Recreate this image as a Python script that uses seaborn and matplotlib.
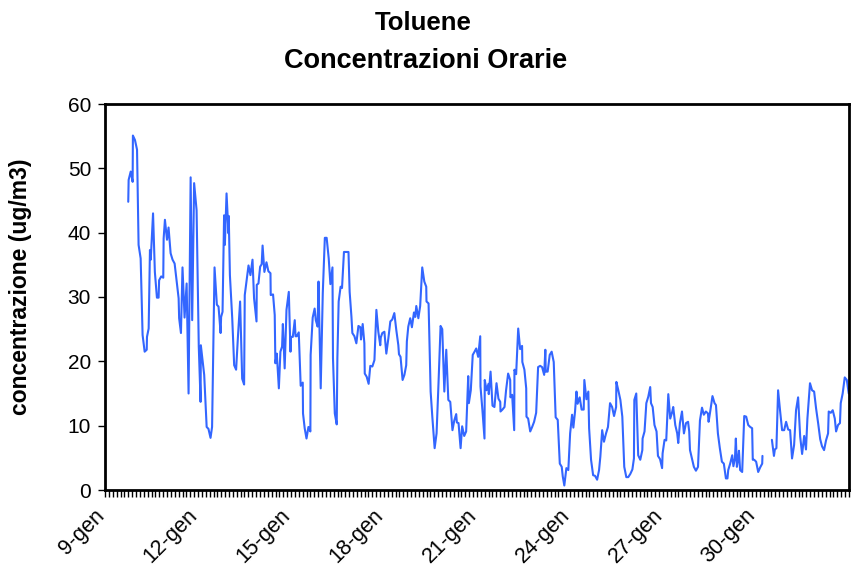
import numpy as np
import pandas as pd
import matplotlib
matplotlib.use("Agg")
import matplotlib.pyplot as plt
import matplotlib.transforms as mtransforms
import seaborn as sns
from matplotlib.ticker import MultipleLocator

# ---- data: hours since 9-gen 00:00 and hourly toluene concentration (ug/m3) ----
ore_1 = [18.0, 18.3, 19.9, 21.4, 21.6, 23.2, 24.8, 26.0, 27.6, 29.1, 30.7, 32.3, 32.5, 33.8,
         34.8, 35.4, 37.2, 38.6, 40.2, 41.5, 41.9, 43.5, 45.1, 45.4, 46.4, 48.0, 49.2, 50.8,
         52.3, 53.9, 57.0, 57.4, 58.8, 60.0, 61.6, 63.2, 64.7, 66.3, 67.5, 69.0, 70.9, 72.6,
         74.0, 74.2, 76.8, 78.7, 80.1, 81.7, 82.9, 84.8, 86.6, 87.9, 89.5, 89.9, 91.0, 92.2,
         92.8, 94.1, 95.6, 95.8,
         96.7, 98.5, 100.0, 101.5, 103.0, 104.6, 106.2, 107.7, 108.2, 109.8, 111.1, 112.6, 114.2,
         115.4, 117.3, 117.5, 118.8, 120.1, 121.3, 122.0, 123.4, 125.0, 126.5, 128.1, 128.3,
         130.1, 131.4, 131.9, 133.0, 134.6, 135.8, 137.1, 137.7, 139.1, 140.5, 142.3, 143.6,
         144.0, 145.4, 146.9, 147.5, 148.5, 150.0, 151.5, 153.1, 153.3, 154.6, 156.0, 157.5,
         159.0, 159.2, 160.8, 162.3, 163.2, 164.6, 165.3, 167.0, 168.6, 170.2, 171.6, 173.2,
         174.5, 176.1, 176.5, 177.9, 179.4, 179.9, 180.9, 182.4, 183.5, 185.0, 188.5, 189.4,
         190.8, 191.5, 193.1, 194.6, 196.2, 197.7, 198.2, 199.5, 200.8, 201.1, 202.6, 204.1,
         205.4, 207.0, 208.6, 210.1, 211.6, 213.1, 213.5, 214.7, 216.3, 217.8, 219.4, 220.9,
         222.4, 224.0, 225.5, 227.1, 227.6, 228.8, 230.4, 231.8, 233.2, 233.7, 234.8, 236.3,
         237.6, 239.2, 240.2, 241.0, 242.6, 244.0, 245.6, 247.2, 248.7, 248.9, 250.5, 252.1,
         253.4, 255.2, 256.7, 258.2, 259.8, 261.1, 262.7, 264.2, 265.8, 267.3, 269.0, 270.4,
         271.9, 272.4, 273.7, 275.3, 276.5, 278.1, 279.6, 281.2, 281.7, 283.2, 284.7,
         286.1, 287.4, 288.9, 290.5, 290.7, 292.2, 293.8, 294.0, 295.4, 296.9, 297.1, 298.5,
         300.0, 301.5, 303.1, 304.6, 306.0, 306.2, 307.7, 309.3, 310.5, 312.1, 313.7, 313.9,
         315.2, 316.8, 317.0, 318.3, 319.9, 321.4, 322.9, 323.1, 324.7, 326.1, 326.3, 327.6,
         329.2, 330.7, 332.2, 333.8, 335.3, 336.9, 338.4, 340.0, 340.9, 341.2, 342.7, 344.3,
         345.8, 347.4, 348.9, 350.5, 352.1, 353.6, 354.4, 355.6, 357.2, 358.7, 360.1, 361.6,
         362.6, 363.9, 365.0, 365.9, 367.5, 369.0, 370.6, 371.1, 372.7, 374.2, 374.8, 376.3,
         377.9, 379.4, 381.0, 382.5,
         383.5, 384.9, 386.3, 387.9, 389.4, 391.0, 392.6, 394.1, 395.7, 395.9, 397.4, 399.0,
         400.5, 402.0, 403.6, 405.1, 406.7, 408.3, 409.5, 409.8, 411.3, 412.8, 414.4, 416.0,
         416.2, 417.7, 419.1, 420.6, 422.1, 422.7, 424.0, 425.4, 427.0, 428.1, 429.7, 431.3,
         431.7, 433.2, 434.5, 436.1, 437.6, 439.2, 439.9, 441.5, 443.0, 443.8, 445.1, 446.7,
         448.2, 449.8, 451.4, 452.3, 452.9, 454.4, 455.9, 457.5, 459.1, 460.6, 462.2, 463.6,
         465.2, 466.8, 467.3, 468.7, 470.3, 471.9, 473.0, 474.5, 476.0, 477.6, 479.1, 480.7,
         481.9, 482.5, 484.0, 485.6, 486.5, 487.7, 488.4, 489.2, 490.2, 490.8, 491.7, 493.3,
         494.9, 496.4, 498.0, 499.5, 501.0, 501.5, 502.6, 504.1, 505.7, 507.2, 508.8, 509.0]
conc_1 = [44.8, 48.2, 49.5, 47.9, 55.1, 54.4, 52.9, 38.1, 36.0, 24.1, 21.5, 21.8, 23.8, 25.1,
          37.3, 35.8, 43.0, 33.9, 29.9, 29.9, 32.6, 33.2, 33.0, 39.1, 42.0, 38.9, 40.8, 36.8,
          35.8, 35.2, 29.8, 26.7, 24.4, 34.6, 26.8, 32.1, 15.0, 48.6, 26.4, 47.7, 43.5, 22.3,
          13.7, 22.5, 17.9, 9.8, 9.5, 8.1, 9.8, 34.6, 28.8, 28.5, 24.4, 26.9, 27.7, 42.7,
          38.1, 46.1, 39.9, 42.6,
          33.4, 26.7, 19.4, 18.7, 24.1, 29.3, 17.3, 16.4, 30.3, 32.9, 34.9, 33.4, 35.8,
          29.8, 26.2, 31.9, 32.1, 34.7, 35.1, 38.0, 33.9, 35.4, 34.0, 33.7, 30.3,
          30.4, 27.2, 19.7, 21.2, 15.8, 21.5, 22.3, 25.8, 18.9, 28.0, 30.8, 21.5,
          23.8, 23.8, 26.4, 23.9, 23.9, 24.5, 16.2, 16.7, 11.9, 9.6, 8.0, 9.8,
          9.1, 21.0, 26.8, 28.2, 26.4, 25.4, 32.4, 15.8, 30.6, 39.2, 39.2, 36.0,
          32.0, 34.6, 20.5, 11.9, 10.2, 20.5, 29.3, 31.6, 31.4, 37.0, 37.0, 30.8,
          26.9, 24.4, 23.9, 22.8, 25.5, 25.3, 23.4, 25.8, 22.8, 18.1, 17.6, 16.5,
          19.3, 19.2, 20.2, 28.0, 24.6, 22.5, 23.7, 24.4, 24.6, 21.2, 23.6, 26.2,
          26.5, 27.5, 24.9, 22.5, 21.1, 20.7, 17.1, 17.9, 19.4, 23.1, 25.4, 26.7,
          25.3, 27.6, 26.9, 28.6, 26.7, 28.6, 34.6, 32.4, 31.6, 29.3, 29.0, 15.3,
          11.4, 6.5, 8.8, 16.6, 25.5, 25.0, 15.3, 21.8, 14.0, 13.7, 9.3, 10.8,
          11.8, 10.5, 10.4, 6.5, 9.9, 8.4, 9.1, 17.7, 13.5, 15.5, 21.0,
          21.5, 22.0, 20.7, 23.9, 16.1, 12.4, 8.0, 17.1, 15.5, 16.5, 14.9, 18.4,
          13.1, 12.9, 16.6, 14.2, 13.7, 12.2, 12.5, 12.9, 15.5, 18.1, 17.1, 14.4,
          14.8, 9.3, 18.7, 18.0, 25.1, 21.9, 22.4, 19.9, 18.7, 15.8, 11.4, 11.1,
          9.1, 9.8, 10.6, 12.0, 19.1, 19.3, 19.1, 17.9, 21.8, 18.4, 18.4, 21.0,
          21.5, 19.9, 11.3, 10.9, 4.1, 3.6, 2.1, 0.7, 3.4, 3.1, 8.8, 11.7,
          9.7, 12.2, 15.3, 13.4, 14.4, 12.5, 12.5, 17.1, 14.1, 15.3, 9.6, 4.7,
          2.3, 2.2, 1.6, 3.1,
          5.2, 9.3, 7.5, 8.8, 9.8, 13.5, 12.9, 11.5, 12.9, 16.8, 15.5, 14.0,
          11.4, 3.6, 2.0, 2.0, 2.5, 3.2, 4.9, 14.0, 15.0, 5.4, 4.7, 6.2,
          8.0, 9.1, 13.5, 14.5, 16.0, 13.5, 12.9, 10.1, 9.1, 5.3, 4.8, 3.4,
          5.7, 7.8, 7.7, 14.9, 11.1, 12.2, 12.9, 10.1, 8.8, 7.3, 10.4, 12.2,
          8.8, 10.4, 10.6, 9.1, 6.2, 4.9, 3.6, 3.0, 3.6, 10.8, 12.8, 11.7,
          12.2, 11.9, 10.6, 12.4, 14.6, 13.5, 13.2, 8.8, 6.5, 4.4, 4.1, 1.8,
          1.8, 3.1, 4.1, 5.4, 3.7, 4.9, 8.0, 3.6, 4.9, 6.1, 3.1, 2.8,
          11.5, 11.4, 10.1, 9.8, 9.6, 4.7, 4.7, 4.4, 2.8, 3.5, 4.1, 5.3]

ore_2 = [516.3, 517.9, 518.6, 519.8, 521.1, 522.6, 524.2, 525.8, 527.3, 528.9, 530.4, 531.9,
         533.5, 535.0, 536.6, 538.2, 539.7, 541.3, 542.7, 543.8, 545.8, 547.4, 549.0, 550.5,
         552.1, 553.7, 555.1, 556.7, 558.2, 559.8, 560.3, 561.9, 563.4, 565.0, 566.0, 567.5,
         569.0, 569.6, 571.1, 572.7, 574.3, 575.8]
conc_2 = [7.8, 5.3, 6.3, 6.5, 15.5, 12.4, 9.3, 9.3, 10.6, 9.4, 9.3, 4.9,
          7.0, 12.4, 14.4, 8.3, 5.6, 8.4, 6.3, 11.1, 16.6, 15.5, 15.3, 12.7,
          10.4, 7.9, 6.8, 6.2, 7.7, 8.8, 12.2, 12.0, 12.4, 11.1, 9.1, 10.1,
          10.4, 13.5, 15.0, 17.5, 17.1, 15.0]

tick_ore = [0, 72, 144, 216, 288, 360, 432, 504]
tick_labels = ["9-gen", "12-gen", "15-gen", "18-gen", "21-gen", "24-gen", "27-gen", "30-gen"]

df = pd.DataFrame({
    "ore": ore_1 + ore_2,
    "conc": conc_1 + conc_2,
    "tratto": [1] * len(ore_1) + [2] * len(ore_2),
})

sns.set_theme(style="white")
plt.rcParams["font.family"] = ["Liberation Sans", "DejaVu Sans"]
plt.rcParams["text.color"] = "black"
plt.rcParams["xtick.color"] = "black"
plt.rcParams["ytick.color"] = "black"

fig = plt.figure(figsize=(8.51, 5.81), dpi=100)
ax = fig.add_axes([105 / 851, 1 - 490 / 581, 744 / 851, 386 / 581])

sns.lineplot(data=df, x="ore", y="conc", units="tratto", estimator=None,
             color="#3366FF", linewidth=1.5, ax=ax, legend=False)

ax.set_xlim(0, 576)
ax.set_ylim(0, 60)
ax.set_yticks([0, 10, 20, 30, 40, 50, 60])
ax.set_xticks(tick_ore)
ax.set_xticklabels([])
ax.xaxis.set_minor_locator(MultipleLocator(3))
ax.tick_params(axis="y", which="major", direction="out", length=5, width=1,
               labelsize=15, pad=5, left=True, labelcolor="black")
ax.tick_params(axis="x", which="both", direction="out", length=5, width=1,
               bottom=True)
ax.set_xlabel("")
ax.set_ylabel("")
for s in ax.spines.values():
    s.set_visible(True)
    s.set_color("black")
    s.set_linewidth(2)

# rotated date labels, anchored just left of and below each tick
lab_tr = ax.get_xaxis_transform() + mtransforms.ScaledTranslation(
    -11 / 100, -15 / 100, fig.dpi_scale_trans)
for t, lab in zip(tick_ore, tick_labels):
    ax.text(t, 0, lab, transform=lab_tr, rotation=45, ha="right", va="top",
            rotation_mode="anchor", fontsize=15.5, color="black", clip_on=False)

fig.text(0.497, 1 - 23 / 581, "Toluene", ha="center", va="center",
         fontsize=18.5, fontweight="bold", color="black")
fig.text(0.5, 1 - 61 / 581, "Concentrazioni Orarie", ha="center", va="center",
         fontsize=19.5, fontweight="bold", color="black")
fig.text(21 / 851, 1 - 287 / 581, "concentrazione (ug/m3)", ha="center", va="center",
         rotation=90, fontsize=16.5, fontweight="bold", color="black")

fig.savefig("out.png", dpi=100)
